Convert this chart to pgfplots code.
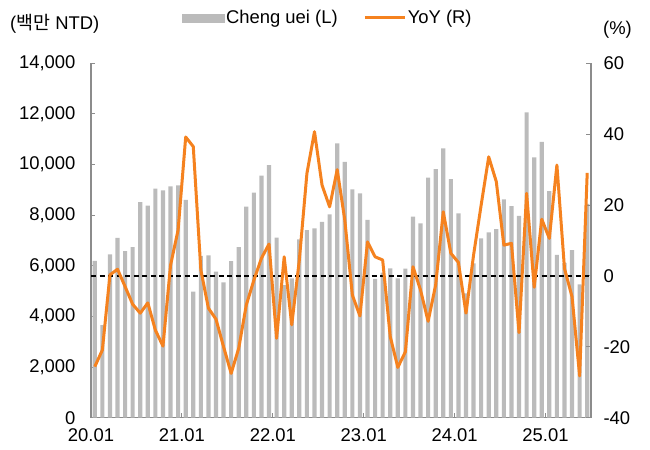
\documentclass[border=0pt]{standalone}
\usepackage{pgfplots}
\usepackage{pgfplotstable}
\pgfplotsset{compat=1.18}
\usepackage{fontspec}
\setmainfont{Liberation Sans}
\newfontfamily\kr{Noto Sans CJK KR}

\definecolor{barg}{HTML}{BBBBBB}
\definecolor{yoyor}{HTML}{F5821F}
\definecolor{spine}{HTML}{8C8C8C}

% monthly sales (million NTD) and YoY (%), 2020.01 - 2025.06
\pgfplotstableread{
m sales yoy
0 6200 -25.6
1 3660 -20.9
2 6450 0.3
3 7100 1.9
4 6580 -3.0
5 6740 -8.0
6 8520 -10.5
7 8375 -7.6
8 9045 -15.3
9 8980 -19.8
10 9140 3.0
11 9180 13.0
12 8600 39.2
13 4980 36.5
14 6390 1.7
15 6415 -9.1
16 5770 -12.2
17 5350 -20.0
18 6190 -27.5
19 6740 -20.4
20 8335 -8.2
21 8890 -1.2
22 9560 5.0
23 9980 9.0
24 7110 -17.6
25 5240 5.4
26 5505 -13.8
27 7045 4.5
28 7410 28.9
29 7480 40.7
30 7740 25.6
31 8030 19.5
32 10840 30.0
33 10110 15.8
34 9020 -5.4
35 8860 -11.3
36 7810 9.6
37 5480 5.4
38 5730 4.5
39 5900 -17.1
40 5505 -25.8
41 5890 -21.4
42 7940 2.6
43 7680 -4.0
44 9480 -12.8
45 9820 -2.5
46 10640 18.1
47 9420 6.4
48 8070 3.8
49 4910 -10.5
50 6100 5.9
51 7085 20.0
52 7320 33.6
53 7450 26.6
54 8620 8.7
55 8360 9.2
56 7970 -16.0
57 12060 23.3
58 10280 -3.2
59 10900 16.0
60 8950 10.6
61 6430 31.3
62 6120 2.1
63 6620 -5.9
64 5270 -28.2
65 8450 29.1
}\datatbl

\begin{document}
\begin{tikzpicture}
\useasboundingbox (-91bp,-32.3bp) rectangle (559bp,417.7bp);
\pgfplotsset{every axis/.append style={
  at={(0,0)}, anchor=south west,
  scale only axis, width=500bp, height=354.4bp,
  xmin=-0.5, xmax=65.5,
  axis line style={spine, line width=1.1bp},
  tick style={spine, line width=1bp},
  tick align=inside, major tick length=4.5bp,
  tick label style={font=\fontsize{18.5}{22}\selectfont},
  /pgf/number format/assume math mode=true,
  /pgf/number format/1000 sep={,},
  scaled y ticks=false,
}}
\begin{axis}[
  ymin=0, ymax=14000,
  axis x line*=bottom, axis y line*=left,
  xtick={-0.5,11.5,23.5,35.5,47.5,59.5},
  xticklabels={20.01,21.01,22.01,23.01,24.01,25.01},
  ytick={0,2000,...,14000},
  yticklabel style={xshift=-12bp},
  xticklabel style={yshift=-7bp},
]
\addplot[ybar, bar width=0.55, fill=barg, draw=none] table[x=m, y=sales] {\datatbl};
\end{axis}
\begin{axis}[
  ymin=-40, ymax=60,
  axis x line=none, axis y line*=right,
  ytick={-40,-20,...,60},
  yticklabel style={xshift=9bp},
  legend style={draw=none, fill=none, at={(0.176,1.128)}, anchor=west,
    font=\fontsize{18.5}{22}\selectfont, legend columns=2,
    nodes={inner sep=1.5bp}},
  /tikz/every even column/.append style={column sep=24bp},
]
\addlegendimage{legend image code/.code={\fill[barg] (0bp,-4bp) rectangle (42bp,4bp);}}
\addlegendentry{Cheng uei (L)}
\addplot[black, line width=1.4bp, dash pattern=on 5bp off 3.5bp, forget plot] coordinates {(-0.5,0) (65.5,0)};
\addplot[yoyor, line width=3bp, line join=round, mark=none,
  legend image code/.code={\draw[yoyor, line width=3bp] (0bp,0bp) -- (40bp,0bp);}]
  table[x=m, y=yoy] {\datatbl};
\addlegendentry{YoY (R)}
\end{axis}
\node[anchor=west, inner sep=0pt, font=\fontsize{18.5}{22}\selectfont] at (-81bp,393.7bp) {({\kr 백만} NTD)};
\node[anchor=west, inner sep=0pt, font=\fontsize{18.5}{22}\selectfont] at (512bp,387.7bp) {(\%)};
\end{tikzpicture}
\end{document}
